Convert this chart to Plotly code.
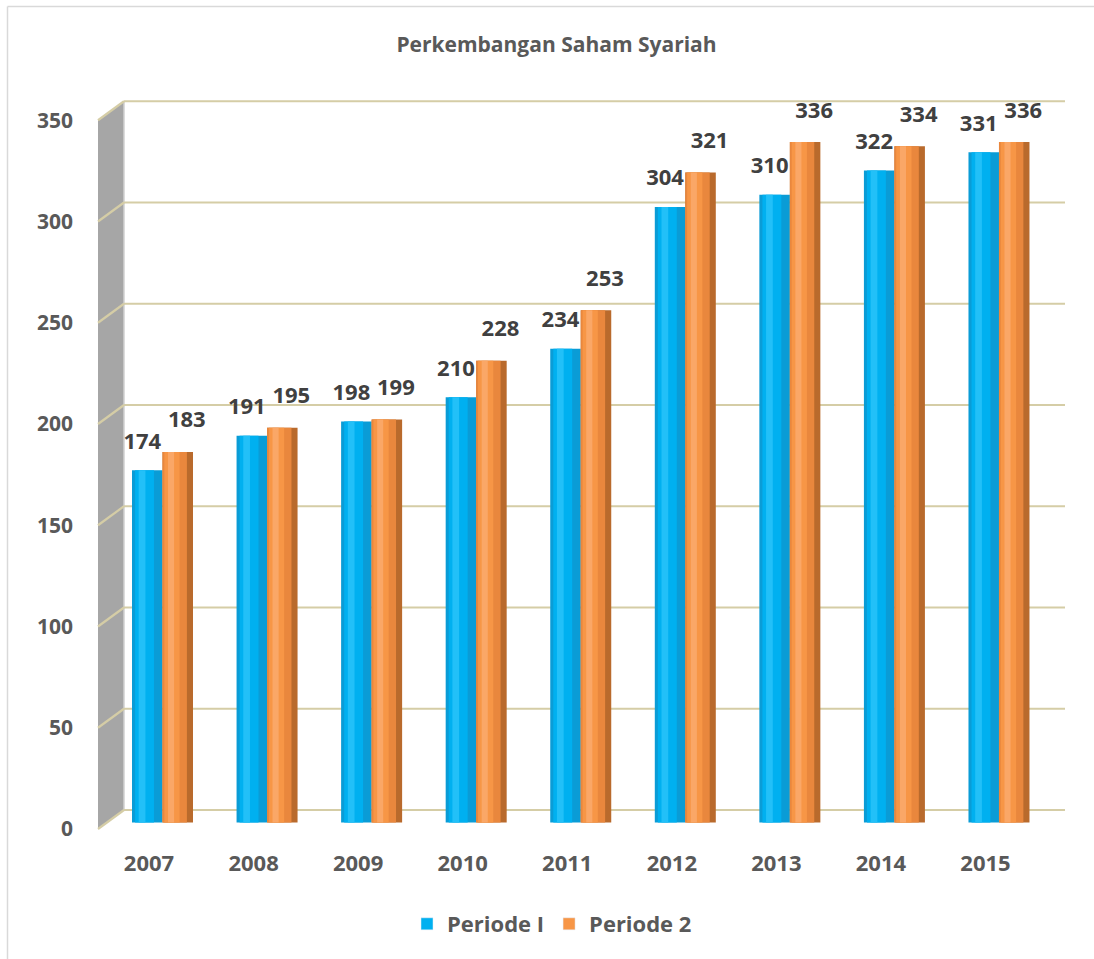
import plotly.graph_objects as go

# ---------------- data ----------------
years = ["2007", "2008", "2009", "2010", "2011", "2012", "2013", "2014", "2015"]
periode_1 = [174, 191, 198, 210, 234, 304, 310, 322, 331]
periode_2 = [183, 195, 199, 228, 253, 321, 336, 334, 336]
y_ticks = [0, 50, 100, 150, 200, 250, 300, 350]
title_text = "Perkembangan Saham Syariah"
series_names = ["Periode I", "Periode 2"]

# ---------------- geometry (pixels) ----------------
W, H = 1094, 959
PL, PR, PT, PB = 98, 1066, 100, 830          # plot area
PX_PER_UNIT = 2.025                          # pixels per data unit
BAR_ZERO = 822.5                             # pixel of value 0 in bar plane
BACK_ZERO = 810.0                            # pixel of value 0 on back wall
FRONT_DY = 19.0                              # front plane is lower by this
BACK_X = 124.0                               # back wall left edge
GROUP_PX = 104.56                            # px between categories
FIRST_CENTER = 162.5                         # px of first category centre
BAR_PX = 30.5                                # bar width px
LABEL_SHIFT_PX = 13.5                        # x labels sit on front plane


def xp(px):
    return (px - PL) / (PR - PL)


def yp(py):
    return (PB - py) / (PB - PT)


x_r0 = -(FIRST_CENTER - PL) / GROUP_PX
x_r1 = x_r0 + (PR - PL) / GROUP_PX
y_r0 = -(PB - BAR_ZERO) / PX_PER_UNIT
y_r1 = (BAR_ZERO - PT) / PX_PER_UNIT

idx = list(range(len(years)))
bw = BAR_PX / GROUP_PX

BLUE = "#00B0F0"
ORANGE = "#F79646"
TEXT = "#595959"
LABEL = "#404040"
GRID = "#D5CDA6"
FONT = "Open Sans"

fig = go.Figure()

# cylinder-like shading layers: (offset fraction from left, width fraction, color)
blue_layers = [
    (0.0, 1.0, "#0A9CD6"),
    (0.10, 0.62, BLUE),
    (0.22, 0.22, "#22C0F8"),
]
orange_layers = [
    (0.0, 1.0, "#B96A2C"),
    (0.0, 0.80, "#E9873D"),
    (0.06, 0.50, ORANGE),
    (0.18, 0.20, "#FAA767"),
]


def add_series(values, name, layers, base_offset):
    for of, wf, c in layers:
        fig.add_trace(go.Bar(
            x=idx, y=values,
            offset=base_offset + of * bw, width=wf * bw,
            marker=dict(color=c, line=dict(width=0)),
            name=name, showlegend=False, hoverinfo="skip",
        ))
    fig.add_trace(go.Bar(
        x=idx, y=values, offset=base_offset, width=bw,
        marker=dict(color=c, line=dict(width=0)), opacity=0,
        name=name, showlegend=False, hoverinfo="y",
    ))


add_series(periode_1, series_names[0], blue_layers, -bw)
add_series(periode_2, series_names[1], orange_layers, 0.0)

# legend entries
for name, color in zip(series_names, [BLUE, ORANGE]):
    fig.add_trace(go.Bar(x=[None], y=[None], name=name,
                         marker=dict(color=color), showlegend=True))

# data labels (Excel places them slightly apart: blue a bit left, orange right)
label_font = dict(family=FONT, size=22, color=LABEL, weight="bold")
b_dx, o_dx = -5 / GROUP_PX, 9 / GROUP_PX
b_gap, o_gap = 27.0 / PX_PER_UNIT, 30.0 / PX_PER_UNIT
fig.add_trace(go.Scatter(
    x=[i - bw / 2 + b_dx for i in idx], y=[v + b_gap for v in periode_1],
    text=[str(v) for v in periode_1], mode="text", textposition="middle center",
    textfont=label_font, showlegend=False, hoverinfo="skip",
))
fig.add_trace(go.Scatter(
    x=[i + bw / 2 + o_dx for i in idx], y=[v + o_gap for v in periode_2],
    text=[str(v) for v in periode_2], mode="text", textposition="middle center",
    textfont=label_font, showlegend=False, hoverinfo="skip",
))

# ---------------- back wall / side wall shapes ----------------
shapes = []


def back_py(v):
    return BACK_ZERO - v * PX_PER_UNIT


top_v, bot_v = max(y_ticks), min(y_ticks)
wall = (f"M {xp(PL)},{yp(back_py(top_v) + FRONT_DY)} "
        f"L {xp(BACK_X)},{yp(back_py(top_v))} "
        f"L {xp(BACK_X)},{yp(back_py(bot_v))} "
        f"L {xp(PL)},{yp(back_py(bot_v) + FRONT_DY)} Z")
shapes.append(dict(type="path", path=wall, xref="paper", yref="paper",
                   fillcolor="#A6A6A6", line=dict(width=0), layer="below"))
shapes.append(dict(type="line", xref="paper", yref="paper",
                   x0=xp(BACK_X), x1=xp(BACK_X),
                   y0=yp(back_py(bot_v)), y1=yp(back_py(top_v)),
                   line=dict(color="#D0D0D0", width=1.5), layer="below"))

for v in y_ticks:
    py = back_py(v)
    shapes.append(dict(type="line", xref="paper", yref="paper",
                       x0=xp(BACK_X), x1=xp(PR - 1), y0=yp(py), y1=yp(py),
                       line=dict(color=GRID, width=2.2), layer="below"))
    shapes.append(dict(type="line", xref="paper", yref="paper",
                       x0=xp(PL), x1=xp(BACK_X), y0=yp(py + FRONT_DY), y1=yp(py),
                       line=dict(color=GRID, width=2.2), layer="below"))

# outer chart border (top & left visible)
shapes.append(dict(type="line", xref="paper", yref="paper",
                   x0=xp(7.5), x1=xp(W + 5), y0=yp(6.5), y1=yp(6.5),
                   line=dict(color="#D9D9D9", width=1.5)))
shapes.append(dict(type="line", xref="paper", yref="paper",
                   x0=xp(7.5), x1=xp(7.5), y0=yp(6.5), y1=yp(H + 5),
                   line=dict(color="#D9D9D9", width=1.5)))

label_shift = LABEL_SHIFT_PX / GROUP_PX
ytick_shift = (BAR_ZERO - (BACK_ZERO + FRONT_DY)) / PX_PER_UNIT  # negative

fig.update_layout(
    width=W, height=H,
    margin=dict(l=PL, r=W - PR, t=PT, b=H - PB, pad=0),
    paper_bgcolor="white", plot_bgcolor="white",
    barmode="overlay",
    shapes=shapes,
    hovermode=False,
    title=dict(text=f"<b>{title_text}</b>", x=xp(556.5), xanchor="center",
               xref="paper", y=1 - 45 / H, yanchor="middle",
               font=dict(family=FONT, size=21, color=TEXT)),
    xaxis=dict(range=[x_r0, x_r1], tickvals=[i - label_shift for i in idx],
               ticktext=years, showgrid=False, zeroline=False, showline=False,
               ticks="", ticklabelstandoff=18, fixedrange=True,
               tickfont=dict(family=FONT, size=22, color=TEXT, weight="bold")),
    yaxis=dict(range=[y_r0, y_r1], tickvals=[v + ytick_shift for v in y_ticks],
               ticktext=[str(v) for v in y_ticks], showgrid=False,
               zeroline=False, showline=False, ticks="", ticklabelstandoff=24,
               fixedrange=True,
               tickfont=dict(family=FONT, size=21, color=TEXT, weight="bold")),
    legend=dict(orientation="h", x=xp(552), xanchor="center",
                y=yp(924), yanchor="middle",
                font=dict(family=FONT, size=22, color=TEXT, weight="bold"),
                itemwidth=30, traceorder="normal"),
    showlegend=True,
)

fig.write_html("out.html",
               config={"displayModeBar": False},
               post_script="document.body.style.margin='0px';"
                           "document.body.style.overflow='hidden';")
